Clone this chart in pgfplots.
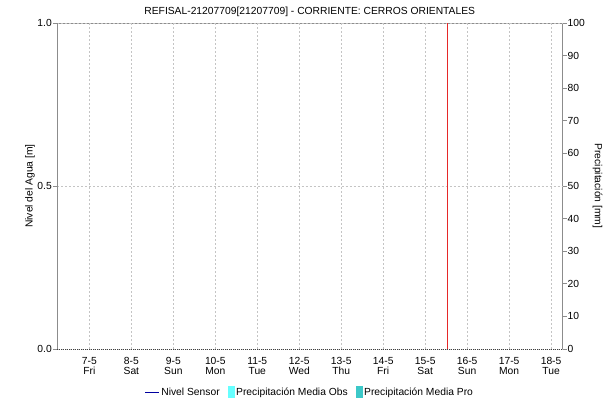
\documentclass[border=0pt]{standalone}
\usepackage{fontspec}
\setmainfont{Liberation Sans}
\usepackage{pgfplots}
\pgfplotsset{compat=1.18}
\definecolor{axgray}{HTML}{8C8C8C}
\definecolor{gridgray}{HTML}{C4C4C4}
\definecolor{obs}{HTML}{66FFFF}
\definecolor{pro}{HTML}{3CC8C8}
\definecolor{nivel}{HTML}{0000A0}
\definecolor{nowred}{RGB}{230,40,40}
\begin{document}
\begin{tikzpicture}[font=\fontsize{10.3bp}{11bp}\selectfont]
\path[use as bounding box] (-57.5bp,-53bp) rectangle (557.5bp,349bp);
\begin{axis}[
  at={(0,0)}, anchor=south west,
  scale only axis, width=504.5bp, height=326bp,
  xmin=6.24, xmax=18.26, ymin=0, ymax=100,
  axis x line*=top, axis y line*=right,
  x axis line style={axgray, line width=0.8bp},
  y axis line style={axgray, line width=0.8bp},
  xtick=\empty,
  ytick={0,10,...,100},
  ytick style={axgray, line width=0.8bp},
  yticklabel style={inner sep=1bp},
  tick align=outside, major tick length=4.5bp,
  /pgf/number format/assume math mode=true,
  ylabel={Precipitación [mm]},
  ylabel style={at={(axis description cs:1.0704,0.5)}, anchor=center, rotate=180},
]
\addplot[draw=none] coordinates {(6.24,0)};
\end{axis}
\begin{axis}[
  at={(0,0)}, anchor=south west,
  scale only axis, width=504.5bp, height=326bp,
  xmin=6.24, xmax=18.26, ymin=0, ymax=1,
  axis x line*=bottom, axis y line*=left,
  x axis line style={black!75, dash pattern=on 1bp off 1bp, line width=0.8bp},
  y axis line style={axgray, line width=0.8bp},
  xtick={7,8,9,10,11,12,13,14,15,16,17,18},
  xticklabels={{7-5\\Fri},{8-5\\Sat},{9-5\\Sun},{10-5\\Mon},{11-5\\Tue},{12-5\\Wed},{13-5\\Thu},{14-5\\Fri},{15-5\\Sat},{16-5\\Sun},{17-5\\Mon},{18-5\\Tue}},
  xticklabel style={align=center, font=\fontsize{10.3bp}{9.8bp}\selectfont, inner sep=0pt, yshift=-3.5bp},
  xtick style={draw=none},
  ytick={0,0.5,1},
  yticklabel style={inner sep=1bp},
  /pgf/number format/fixed,
  /pgf/number format/fixed zerofill,
  /pgf/number format/precision=1,
  ytick style={axgray, line width=0.8bp},
  tick align=outside, major tick length=4.5bp,
  /pgf/number format/assume math mode=true,
  xmajorgrids, ymajorgrids,
  major grid style={gridgray, dash pattern=on 2bp off 2bp, line width=0.6bp},
  ylabel={Nivel del Agua [m]},
  ylabel style={at={(axis description cs:-0.0545,0.5)}, anchor=center},
  title={REFISAL-21207709[21207709] - CORRIENTE: CERROS ORIENTALES},
  title style={at={(axis description cs:0.5,1)}, anchor=center, yshift=5bp},
  legend columns=-1,
  legend style={at={(axis description cs:0.5,-0.132)}, anchor=center, draw=none, fill=none,
    inner sep=0pt,
    nodes={inner sep=1.5bp},
    /tikz/every even column/.append style={column sep=7bp}},
]
\addlegendimage{legend image code/.code={\draw[nivel, line width=0.8bp] (0bp,0bp) -- (14bp,0bp);}}
\addlegendentry{Nivel Sensor}
\addlegendimage{legend image code/.code={\fill[obs] (0bp,-5.5bp) rectangle (6bp,5.5bp);}}
\addlegendentry{Precipitación Media Obs}
\addlegendimage{legend image code/.code={\fill[pro] (0bp,-5.5bp) rectangle (6bp,5.5bp);}}
\addlegendentry{Precipitación Media Pro}
\end{axis}
\begin{axis}[
  at={(0,0)}, anchor=south west,
  scale only axis, width=504.5bp, height=326bp,
  xmin=6.24, xmax=18.26, ymin=0, ymax=1,
  hide axis,
]
\addplot[nowred, line width=1bp] coordinates {(15.536,0) (15.536,1)};
\end{axis}
\end{tikzpicture}
\end{document}
